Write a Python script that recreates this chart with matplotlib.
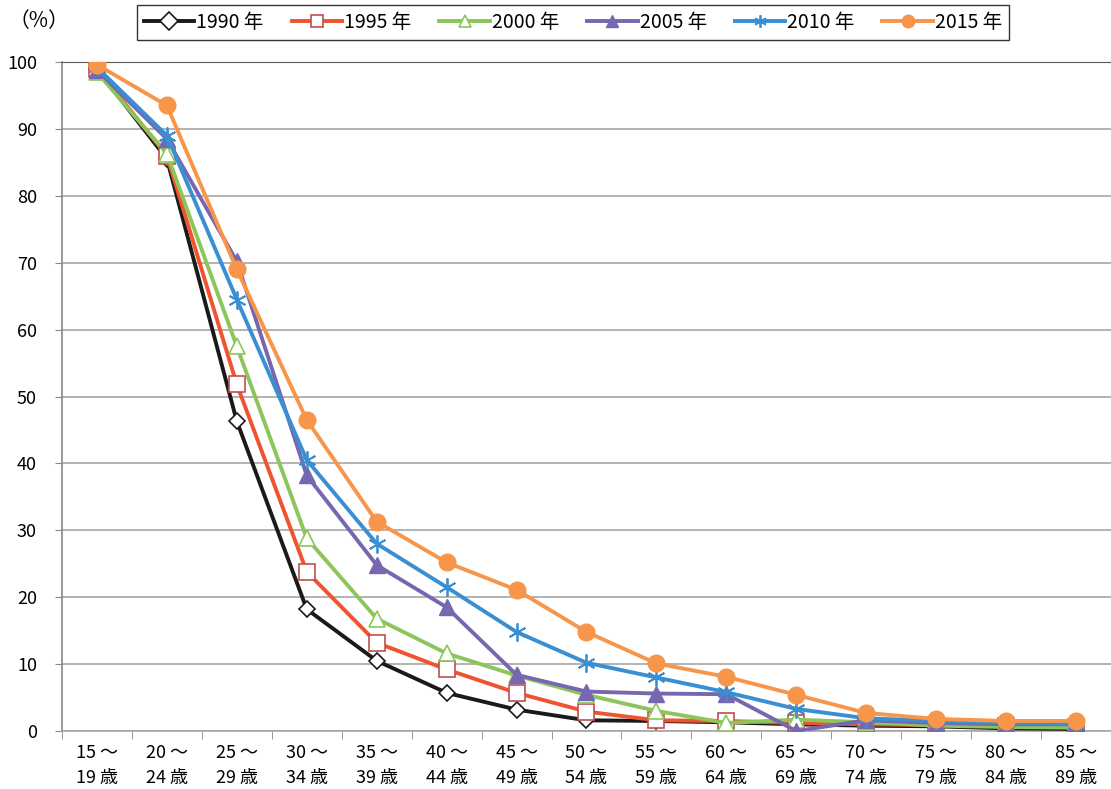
import matplotlib
matplotlib.use("Agg")
import matplotlib.pyplot as plt

plt.rcParams['font.family'] = ['Liberation Sans Narrow', 'Noto Sans CJK JP', 'DejaVu Sans']

# age groups
age_from = ["15", "20", "25", "30", "35", "40", "45", "50", "55", "60", "65", "70", "75", "80", "85"]
age_to = ["19", "24", "29", "34", "39", "44", "49", "54", "59", "64", "69", "74", "79", "84", "89"]
tick_labels = [f"{a} ～\n{b} 歳" for a, b in zip(age_from, age_to)]

years = ["1990 年", "1995 年", "2000 年", "2005 年", "2010 年", "2015 年"]

v1990 = [99.0, 85.5, 46.3, 18.2, 10.5, 5.7, 3.2, 1.6, 1.5, 1.3, 1.0, 0.8, 0.7, 0.4, 0.3]
v1995 = [99.0, 86.0, 51.8, 23.8, 13.2, 9.2, 5.7, 2.9, 1.6, 1.5, 1.2, 1.0, 0.9, 0.8, 0.6]
v2000 = [98.5, 86.3, 57.5, 28.8, 16.8, 11.6, 8.3, 5.4, 3.0, 1.2, 1.7, 1.3, 0.8, 0.6, 0.5]
v2005 = [98.8, 88.5, 70.2, 38.2, 24.8, 18.5, 8.4, 5.9, 5.6, 5.5, 0.0, 1.6, 1.2, 1.0, 1.0]
v2010 = [99.2, 89.0, 64.5, 40.5, 28.0, 21.5, 14.8, 10.2, 8.0, 5.8, 3.3, 1.9, 1.5, 1.2, 1.0]
v2015 = [99.6, 93.5, 69.0, 46.5, 31.3, 25.2, 21.1, 14.8, 10.1, 8.1, 5.4, 2.7, 1.8, 1.5, 1.5]

fig = plt.figure(figsize=(11.11, 7.89), dpi=100)
ax = fig.add_axes([0.0558, 0.0735, 0.9442, 0.8479])

x = list(range(len(age_from)))

# 線のスタイル
ax.plot(x, v1990, color='#1a1a1a', lw=2.8, marker='D', ms=8, mfc='white', mec='#1a1a1a', mew=1.2, label=years[0], zorder=3)
ax.plot(x, v1995, color='#ef5330', lw=2.8, marker='s', ms=11, mfc='white', mec='#c0504d', mew=1.2, label=years[1], zorder=3)
ax.plot(x, v2000, color='#8cc65a', lw=2.8, marker='^', ms=11, mfc='white', mec='#8cc65a', mew=1.2, label=years[2], zorder=3)
ax.plot(x, v2005, color='#7767b0', lw=2.8, marker='^', ms=11, mfc='#7767b0', mec='#7767b0', label=years[3], zorder=3)
ax.plot(x, v2010, color='#3a8fd3', lw=2.8, marker=(6, 2, 0), ms=13, mec='#3a8fd3', mew=1.3, label=years[4], zorder=3)
ax.plot(x, v2015, color='#f7964a', lw=2.8, marker='o', ms=12, mfc='#f7964a', mec='#f7964a', label=years[5], zorder=4)

ax.set_xlim(-0.5, len(x) - 0.5)
ax.set_ylim(0, 100)
ax.set_yticks(range(0, 101, 10))
ax.tick_params(axis='y', labelsize=13, length=5, color='#888888', pad=13)
ax.grid(axis='y', color='#a6a6a6', lw=1.2)
ax.set_axisbelow(True)

ax.set_xticks(x)
ax.set_xticklabels(tick_labels, fontsize=13, linespacing=1.55)
ax.tick_params(axis='x', length=0, pad=9)
ax.set_xticks([i - 0.5 for i in range(len(x) + 1)], minor=True)
ax.tick_params(axis='x', which='minor', length=6, color='#888888')

ax.spines['right'].set_visible(False)
ax.spines['top'].set_color('#555555')
ax.spines['left'].set_color('#888888')
ax.spines['left'].set_linewidth(1.2)
ax.spines['bottom'].set_color('#a6a6a6')
ax.spines['bottom'].set_linewidth(1.2)

fig.text(0.008, 0.973, "（%）", fontsize=15, va='center', ha='left',
         family=['Noto Sans CJK JP', 'DejaVu Sans'])

leg = fig.legend(loc='lower left', bbox_to_anchor=(137 / 1111, 1 - 40 / 789, 872 / 1111, 35 / 789),
                 mode='expand', ncol=6, fontsize=14,
                 frameon=True, fancybox=False, edgecolor='black', handlelength=2.6,
                 columnspacing=0.8, handletextpad=0.1, borderpad=0.35, borderaxespad=0)
leg.get_frame().set_linewidth(1.0)
for h in leg.legend_handles:
    h.set_markersize(9)

fig.savefig("out.png", dpi=100)
